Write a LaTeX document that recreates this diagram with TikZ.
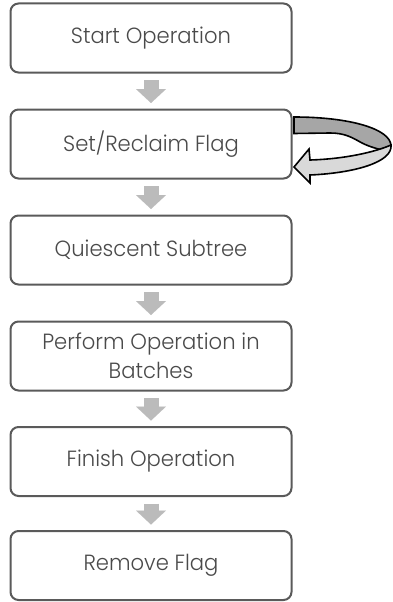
\documentclass[tikz,border=0pt]{standalone}
\usepackage{fontspec}
\setmainfont{Poppins}[UprightFont=* Light, FakeStretch=0.96]
\usetikzlibrary{arrows.meta}
\definecolor{boxline}{HTML}{5A5A5A}
\definecolor{txt}{HTML}{4A4A4A}
\definecolor{flowgray}{HTML}{BBBBBB}
\definecolor{bandback}{HTML}{A6A6A6}
\definecolor{bandfront}{HTML}{D9D9D9}
\begin{document}
\begin{tikzpicture}[x=1pt,y=-1pt,
  stepbox/.style={draw=boxline, line width=2pt, rounded corners=8pt, fill=white,
    minimum width=281pt, minimum height=69pt, inner sep=0pt, align=center,
    text=txt, font=\fontsize{22}{29}\selectfont},
  flow/.style={draw=flowgray, line width=15pt,
    -{Triangle[width=30pt,length=14pt,line width=0.01pt]},
    shorten <=6.5pt, shorten >=5.5pt},
  loopband/.style={draw=black, line width=1.6pt, line join=miter}]
\useasboundingbox (0,0) rectangle (392,602);

% process steps
\node[stepbox] (s1) at (151,38)    {Start Operation};
\node[stepbox] (s2) at (151,144)   {Set/Reclaim Flag};
\node[stepbox] (s3) at (151,250)   {Quiescent Subtree};
\node[stepbox] (s4) at (151,356)   {Perform Operation in\\Batches};
\node[stepbox] (s5) at (151,461.5) {Finish Operation};
\node[stepbox] (s6) at (151,565.5) {Remove Flag};

% block arrows between the steps
\draw[flow] (s1.south) -- (s2.north);
\draw[flow] (s2.south) -- (s3.north);
\draw[flow] (s3.south) -- (s4.north);
\draw[flow] (s4.south) -- (s5.north);
\draw[flow] (s5.south) -- (s6.north);

% curved retry arrow on the flag step: back of the ribbon
\draw[loopband, fill=bandback]
  (294,117) .. controls (350,117) and (391,129) .. (391,146)
  -- (386,151)
  .. controls (378,149) and (370,147) .. (362,143)
  .. controls (352,137.5) and (345,133) .. (330,133)
  -- (294,133.5) -- cycle;
% front of the ribbon with the arrow head
\draw[loopband, fill=bandfront]
  (391,145) .. controls (393,162) and (355,173) .. (310,175)
  -- (310,183) -- (294,167) -- (309,149) -- (310,160)
  .. controls (345,159) and (375,152) .. (391,145) -- cycle;
\end{tikzpicture}
\end{document}
